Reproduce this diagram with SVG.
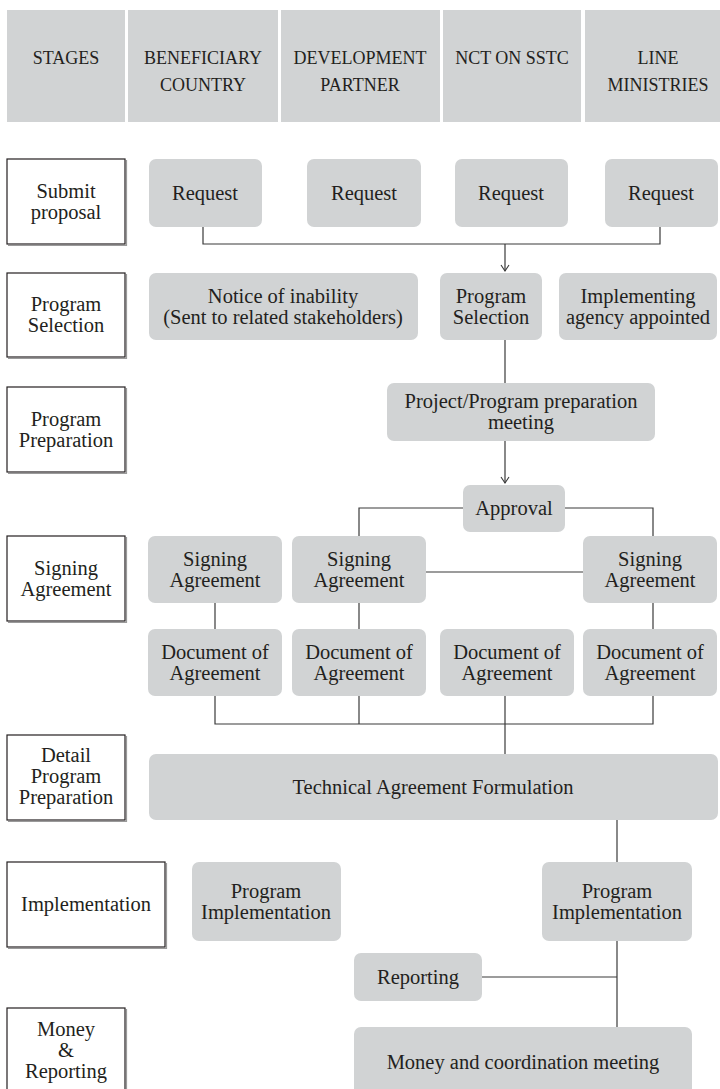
<svg xmlns="http://www.w3.org/2000/svg" width="720" height="1089" viewBox="0 0 720 1089">
<style>
.hdr{fill:#d1d3d4}
.stage{fill:#ffffff;stroke:#231f20;stroke-width:1.2}
.shadow{fill:none;stroke:#9a9a9a;stroke-width:1.2}
.node{fill:#d1d3d4}
text{font-family:"Liberation Serif","Times New Roman",serif;fill:#231f20;text-anchor:middle}
.t{font-size:20.5px}
.h{font-size:18px}
.c{fill:none;stroke:#3a3a3a;stroke-width:1.2}
</style>
<defs>
<marker id="arr" markerUnits="userSpaceOnUse" viewBox="-7 -5 8 10" refX="0" refY="0" markerWidth="8" markerHeight="10" orient="auto">
<path d="M-6,-4 L0,0 L-6,4" fill="none" stroke="#3a3a3a" stroke-width="1.1"/>
</marker>
</defs>
<rect width="720" height="1089" fill="#ffffff"/>

<g id="header">
<rect class="hdr" x="7" y="10" width="118" height="112"/>
<rect class="hdr" x="128" y="10" width="150" height="112"/>
<rect class="hdr" x="281" y="10" width="159" height="112"/>
<rect class="hdr" x="443" y="10" width="138" height="112"/>
<rect class="hdr" x="585" y="10" width="135" height="112"/>
<text class="h" x="66" y="64">STAGES</text>
<text class="h" x="203" y="64">BENEFICIARY</text>
<text class="h" x="203" y="91">COUNTRY</text>
<text class="h" x="360" y="64">DEVELOPMENT</text>
<text class="h" x="360" y="91">PARTNER</text>
<text class="h" x="512" y="64">NCT ON SSTC</text>
<text class="h" x="658" y="64">LINE</text>
<text class="h" x="658" y="91">MINISTRIES</text>
</g>

<g id="connectors">
<polyline class="c" points="203,227 203,244 660,244 660,227"/>
<line class="c" x1="505" y1="244" x2="505" y2="271" marker-end="url(#arr)"/>
<line class="c" x1="505" y1="340" x2="505" y2="383"/>
<line class="c" x1="505" y1="441" x2="505" y2="483" marker-end="url(#arr)"/>
<polyline class="c" points="463,508 359,508 359,536"/>
<polyline class="c" points="565,508 653,508 653,536"/>
<line class="c" x1="426" y1="572" x2="583" y2="572"/>
<line class="c" x1="215" y1="603" x2="215" y2="629"/>
<line class="c" x1="359" y1="603" x2="359" y2="629"/>
<line class="c" x1="653" y1="603" x2="653" y2="629"/>
<polyline class="c" points="215,696 215,724 653,724 653,696"/>
<line class="c" x1="359" y1="696" x2="359" y2="724"/>
<line class="c" x1="505" y1="696" x2="505" y2="754"/>
<line class="c" x1="617" y1="820" x2="617" y2="862"/>
<line class="c" x1="617" y1="941" x2="617" y2="1027"/>
<line class="c" x1="482" y1="977" x2="617" y2="977"/>
</g>

<g id="stage-submit"><path class="shadow" d="M8,245.5 H126.5 V160"/><rect class="stage" x="7" y="159" width="118" height="85"/><text class="t" x="66" y="198">Submit</text><text class="t" x="66" y="219">proposal</text></g>
<g id="stage-selection"><path class="shadow" d="M8,358.5 H126.5 V274"/><rect class="stage" x="7" y="273" width="118" height="84"/><text class="t" x="66" y="311">Program</text><text class="t" x="66" y="332">Selection</text></g>
<g id="stage-preparation"><path class="shadow" d="M8,473.5 H126.5 V388"/><rect class="stage" x="7" y="387" width="118" height="85"/><text class="t" x="66" y="426">Program</text><text class="t" x="66" y="447">Preparation</text></g>
<g id="stage-signing"><path class="shadow" d="M8,622.5 H126.5 V537"/><rect class="stage" x="7" y="536" width="118" height="85"/><text class="t" x="66" y="575">Signing</text><text class="t" x="66" y="596">Agreement</text></g>
<g id="stage-detail"><path class="shadow" d="M8,821.5 H126.5 V736"/><rect class="stage" x="7" y="735" width="118" height="85"/><text class="t" x="66" y="762">Detail</text><text class="t" x="66" y="783">Program</text><text class="t" x="66" y="804">Preparation</text></g>
<g id="stage-implementation"><path class="shadow" d="M8,948.5 H166.5 V863"/><rect class="stage" x="7" y="862" width="158" height="85"/><text class="t" x="86" y="911">Implementation</text></g>
<g id="stage-money"><path class="shadow" d="M126.5,1009 V1099"/><rect class="stage" x="7" y="1008" width="118" height="90"/><text class="t" x="66" y="1036">Money</text><text class="t" x="66" y="1057">&amp;</text><text class="t" x="66" y="1078">Reporting</text></g>

<g id="request-1"><rect class="node" x="149" y="159" width="113" height="68" rx="7"/><text class="t" x="205" y="200">Request</text></g>
<g id="request-2"><rect class="node" x="307" y="159" width="114" height="68" rx="7"/><text class="t" x="364" y="200">Request</text></g>
<g id="request-3"><rect class="node" x="455" y="159" width="113" height="68" rx="7"/><text class="t" x="511" y="200">Request</text></g>
<g id="request-4"><rect class="node" x="605" y="159" width="113" height="68" rx="7"/><text class="t" x="661" y="200">Request</text></g>

<g id="notice"><rect class="node" x="149" y="273" width="269" height="67" rx="7"/><text class="t" x="283" y="303">Notice of inability</text><text class="t" x="283" y="324">(Sent to related stakeholders)</text></g>
<g id="program-selection"><rect class="node" x="440" y="273" width="102" height="67" rx="7"/><text class="t" x="491" y="303">Program</text><text class="t" x="491" y="324">Selection</text></g>
<g id="implementing-agency"><rect class="node" x="559" y="273" width="158" height="67" rx="7"/><text class="t" x="638" y="303">Implementing</text><text class="t" x="638" y="324">agency appointed</text></g>

<g id="preparation-meeting"><rect class="node" x="387" y="383" width="268" height="58" rx="7"/><text class="t" x="521" y="408">Project/Program preparation</text><text class="t" x="521" y="429">meeting</text></g>
<g id="approval"><rect class="node" x="463" y="485" width="102" height="47" rx="7"/><text class="t" x="514" y="515">Approval</text></g>

<g id="signing-1"><rect class="node" x="148" y="536" width="134" height="67" rx="7"/><text class="t" x="215" y="566">Signing</text><text class="t" x="215" y="587">Agreement</text></g>
<g id="signing-2"><rect class="node" x="292" y="536" width="134" height="67" rx="7"/><text class="t" x="359" y="566">Signing</text><text class="t" x="359" y="587">Agreement</text></g>
<g id="signing-3"><rect class="node" x="583" y="536" width="134" height="67" rx="7"/><text class="t" x="650" y="566">Signing</text><text class="t" x="650" y="587">Agreement</text></g>

<g id="doc-1"><rect class="node" x="148" y="629" width="134" height="67" rx="7"/><text class="t" x="215" y="659">Document of</text><text class="t" x="215" y="680">Agreement</text></g>
<g id="doc-2"><rect class="node" x="292" y="629" width="134" height="67" rx="7"/><text class="t" x="359" y="659">Document of</text><text class="t" x="359" y="680">Agreement</text></g>
<g id="doc-3"><rect class="node" x="440" y="629" width="134" height="67" rx="7"/><text class="t" x="507" y="659">Document of</text><text class="t" x="507" y="680">Agreement</text></g>
<g id="doc-4"><rect class="node" x="583" y="629" width="134" height="67" rx="7"/><text class="t" x="650" y="659">Document of</text><text class="t" x="650" y="680">Agreement</text></g>

<g id="technical-agreement"><rect class="node" x="149" y="754" width="569" height="66" rx="7"/><text class="t" x="433" y="794">Technical Agreement Formulation</text></g>

<g id="program-implementation-1"><rect class="node" x="192" y="862" width="149" height="79" rx="7"/><text class="t" x="266" y="898">Program</text><text class="t" x="266" y="919">Implementation</text></g>
<g id="program-implementation-2"><rect class="node" x="542" y="862" width="150" height="79" rx="7"/><text class="t" x="617" y="898">Program</text><text class="t" x="617" y="919">Implementation</text></g>

<g id="reporting"><rect class="node" x="354" y="953" width="128" height="48" rx="7"/><text class="t" x="418" y="984">Reporting</text></g>
<g id="money-meeting"><rect class="node" x="354" y="1027" width="338" height="72" rx="7"/><text class="t" x="523" y="1069">Money and coordination meeting</text></g>
</svg>
